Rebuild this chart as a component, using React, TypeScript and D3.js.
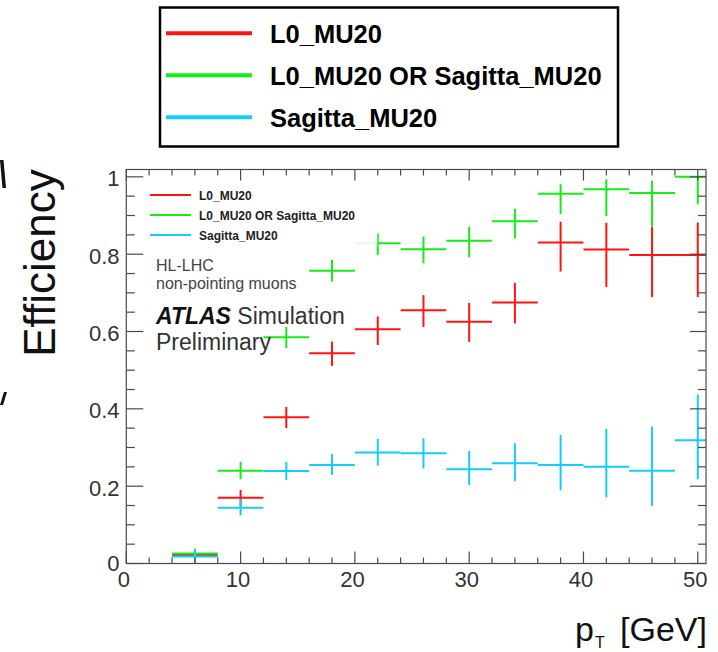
import React from "react";
import * as d3 from "d3";

// pT bins (GeV): centres and half-width
const binCenters = [6, 10, 14, 18, 22, 26, 30, 34, 38, 42, 46, 50];
const binHalfWidth = 2;

// L0_MU20 efficiency with asymmetric errors
const l0Eff = [0.022, 0.17, 0.378, 0.544, 0.606, 0.655, 0.625, 0.675, 0.83, 0.812, 0.798, 0.798];
const l0Up = [0.006, 0.02, 0.027, 0.03, 0.033, 0.039, 0.049, 0.051, 0.054, 0.069, 0.073, 0.084];
const l0Down = [0.006, 0.023, 0.028, 0.033, 0.041, 0.043, 0.052, 0.054, 0.075, 0.097, 0.109, 0.109];

// L0_MU20 OR Sagitta_MU20
const orEff = [0.026, 0.24, 0.585, 0.757, 0.828, 0.8125, 0.835, 0.885, 0.956, 0.968, 0.958, 1.0];
const orUp = [0.012, 0.023, 0.027, 0.028, 0.026, 0.033, 0.036, 0.032, 0.025, 0.026, 0.032, 0.0];
const orDown = [0.012, 0.022, 0.028, 0.028, 0.03, 0.036, 0.043, 0.044, 0.052, 0.069, 0.087, 0.071];

// Sagitta_MU20
const sagEff = [0.018, 0.144, 0.239, 0.255, 0.287, 0.285, 0.244, 0.259, 0.255, 0.25, 0.24, 0.319];
const sagUp = [0.016, 0.022, 0.024, 0.028, 0.035, 0.039, 0.047, 0.052, 0.078, 0.098, 0.114, 0.118];
const sagDown = [0.016, 0.019, 0.023, 0.026, 0.034, 0.039, 0.041, 0.046, 0.066, 0.079, 0.091, 0.101];

const seriesNames = ["L0_MU20", "L0_MU20 OR Sagitta_MU20", "Sagitta_MU20"];
const seriesColors = ["#ff1414", "#14ee14", "#14ccff"];

const xTickLabels = ["0", "10", "20", "30", "40", "50"];
const yTickLabels = ["0", "0.2", "0.4", "0.6", "0.8", "1"];

const FONT = "'Liberation Sans', Arial, Helvetica, sans-serif";

const W = 718;
const H = 652;
const frame = { left: 126.3, right: 706, top: 169.5, bottom: 563.5 };

export default function App() {
  const x = d3.scaleLinear().domain([0, 50.72]).range([frame.left, frame.right]);
  const y = d3.scaleLinear().domain([0, 1.019]).range([frame.bottom, frame.top]);

  const series = [
    { eff: l0Eff, up: l0Up, down: l0Down },
    { eff: orEff, up: orUp, down: orDown },
    { eff: sagEff, up: sagUp, down: sagDown },
  ];

  const xMinor = d3.range(0, 51, 2);
  const xMajor = d3.range(0, 51, 10);
  const yMinor = d3.range(0, 1.0001, 0.05);
  const yMajor = d3.range(0, 1.0001, 0.2);

  const axisColor = "#4a4a4a";
  const labelColor = "#333";

  return (
    <svg
      width={W}
      height={H}
      viewBox={`0 0 ${W} ${H}`}
      style={{ position: "absolute", left: 0, top: 0, background: "#fff" }}
    >
      <defs>
        <clipPath id="frameClip">
          <rect x={frame.left} y={frame.top - 2} width={frame.right - frame.left} height={frame.bottom - frame.top + 2} />
        </clipPath>
      </defs>
      <rect x={0} y={0} width={W} height={H} fill="#fff" />

      {/* stroke fragments at the left edge */}
      <path d="M0,160 L3.5,160 L6,188 L2.5,188 Z" fill="#111" />
      <path d="M4,392 L7,392 L3,405 L0,405 Z" fill="#111" />

      {/* y-axis title */}
      <text
        transform={`translate(55,263) rotate(-90)`}
        textAnchor="middle"
        fontFamily={FONT}
        fontSize={44}
        fill="#111"
      >
        Efficiency
      </text>

      {/* error-bar crosses */}
      <g clipPath="url(#frameClip)">
        {series.map((s, si) => (
          <g key={si} stroke={seriesColors[si]} strokeWidth={2} fill="none">
            {binCenters.map((c, i) => (
              <g key={i}>
                <line x1={x(c - binHalfWidth)} x2={x(c + binHalfWidth)} y1={y(s.eff[i])} y2={y(s.eff[i])} />
                <line x1={x(c)} x2={x(c)} y1={y(Math.max(0, s.eff[i] - s.down[i]))} y2={y(s.eff[i] + s.up[i])} />
              </g>
            ))}
          </g>
        ))}
      </g>

      {/* in-frame legend box (white fill over the data) */}
      <rect x={frame.left + 1} y={frame.top + 1} width={250} height={75} fill="#fff" opacity={0.88} />
      {seriesNames.map((n, i) => (
        <g key={n}>
          <line x1={150} x2={191} y1={195 + i * 20} y2={195 + i * 20} stroke={seriesColors[i]} strokeWidth={2} />
          <text x={199} y={199.5 + i * 20} fontFamily={FONT} fontWeight="bold" fontSize={12} fill="#222">
            {n}
          </text>
        </g>
      ))}
      <text x={156} y={271} fontFamily={FONT} fontSize={16} fill="#444">HL-LHC</text>
      <text x={156} y={289} fontFamily={FONT} fontSize={16} fill="#444">non-pointing muons</text>
      <text x={156} y={324} fontFamily={FONT} fontSize={23} fill="#333">
        <tspan fontWeight="bold" fontStyle="italic" fill="#111">ATLAS</tspan>
        <tspan> Simulation</tspan>
      </text>
      <text x={156} y={350} fontFamily={FONT} fontSize={23} fill="#333">Preliminary</text>

      {/* frame */}
      <rect
        x={frame.left}
        y={frame.top}
        width={frame.right - frame.left}
        height={frame.bottom - frame.top}
        fill="none"
        stroke={axisColor}
        strokeWidth={1.2}
      />

      {/* ticks on all four sides */}
      <g stroke={axisColor} strokeWidth={1.2}>
        {xMinor.map((t) => {
          const major = t % 10 === 0;
          return (
            <g key={`x${t}`}>
              <line x1={x(t)} x2={x(t)} y1={frame.bottom} y2={frame.bottom - (major ? 12 : 6)} />
              <line x1={x(t)} x2={x(t)} y1={frame.top} y2={frame.top + (major ? 11 : 6)} />
            </g>
          );
        })}
        {yMinor.map((t, i) => {
          const major = i % 4 === 0;
          return (
            <g key={`y${i}`}>
              <line x1={frame.left} x2={frame.left + (major ? 17 : 8.5)} y1={y(t)} y2={y(t)} />
              <line x1={frame.right} x2={frame.right - (major ? 16 : 8)} y1={y(t)} y2={y(t)} />
            </g>
          );
        })}
      </g>

      {/* tick labels */}
      {xMajor.map((t, i) => (
        <text
          key={`xl${t}`}
          x={x(t) - 2.5}
          y={587}
          textAnchor="middle"
          fontFamily={FONT}
          fontSize={22}
          fill={labelColor}
        >
          {xTickLabels[i]}
        </text>
      ))}
      {yMajor.map((t, i) => (
        <text
          key={`yl${i}`}
          x={119.5}
          y={y(t) + 9.5 - (i === 0 ? 2 : 0)}
          textAnchor="end"
          fontFamily={FONT}
          fontSize={22}
          fill={labelColor}
        >
          {yTickLabels[i]}
        </text>
      ))}

      {/* x-axis title */}
      <text x={575} y={641} fontFamily={FONT} fontSize={34} fill="#111">p</text>
      <text x={595} y={648} fontFamily={FONT} fontSize={16} fill="#111">T</text>
      <text x={707} y={641} textAnchor="end" fontFamily={FONT} fontSize={34} fill="#111">[GeV]</text>

      {/* external legend */}
      <rect x={160} y={7.5} width={458} height={139} fill="#fff" stroke="#000" strokeWidth={2.5} />
      {seriesNames.map((n, i) => (
        <g key={`L${n}`}>
          <line x1={166} x2={252} y1={33.3 + i * 42} y2={33.3 + i * 42} stroke={seriesColors[i]} strokeWidth={4} />
          <text x={270} y={42.5 + i * 42} fontFamily={FONT} fontWeight="bold" fontSize={25.5} fill="#000">
            {n}
          </text>
        </g>
      ))}
    </svg>
  );
}
